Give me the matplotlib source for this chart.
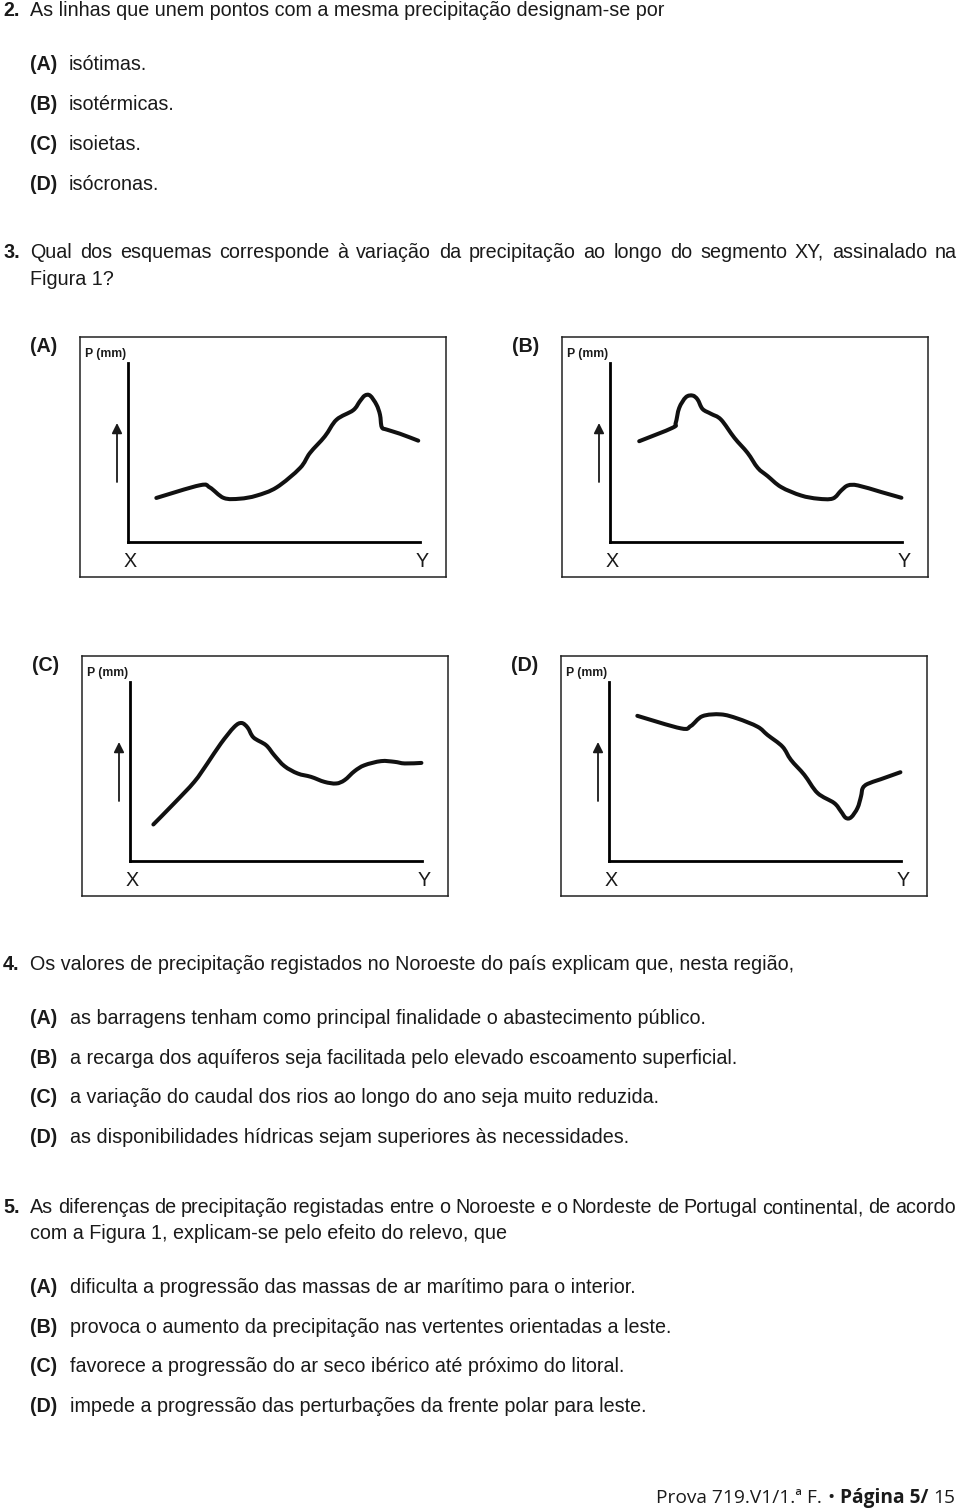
import matplotlib
matplotlib.use('Agg')
import matplotlib.pyplot as plt
from matplotlib.path import Path
from matplotlib.patches import PathPatch

W, H = 960, 1509
DPI = 100
FONT = ['Liberation Sans', 'DejaVu Sans']
COR = '#1a1a1a'
TAM = 14.2
plt.rcParams['font.family'] = FONT

perfil_a_x = [9.7, 24.6, 28.0, 32.8, 38.3, 44.0, 50.9, 58.9, 62.3, 67.4, 71.4, 77.1,
              79.4, 81.1, 82.9, 85.1, 86.3, 86.9, 88.6, 93.1, 99.4]
perfil_a_p = [24.6, 31.7, 30.5, 24.6, 24.2, 25.9, 30.5, 41.3, 49.7, 59.0, 68.3, 73.6,
              78.6, 81.8, 81.8, 76.7, 71.1, 64.2, 62.8, 60.5, 56.6]

perfil_b_x = [10.0, 21.4, 22.5, 23.7, 26.0, 28.3, 30.0, 31.7, 34.6, 38.0, 42.6, 47.1,
              50.6, 54.0, 58.6, 65.4, 71.2, 76.3, 79.2, 81.5, 84.9, 92.9, 99.8]
perfil_b_p = [56.3, 63.8, 66.5, 74.9, 80.9, 81.8, 79.6, 74.3, 71.6, 68.4, 58.2, 49.8,
              41.4, 36.8, 30.7, 26.0, 24.2, 24.3, 28.8, 31.6, 31.6, 27.9, 24.7]

perfil_c_x = [8.0, 15.1, 22.0, 26.5, 31.1, 35.7, 38.2, 40.3, 42.3, 46.6, 49.4, 52.9,
              57.4, 62.0, 66.6, 70.6, 73.5, 76.9, 80.3, 86.0, 90.6, 94.1, 99.8]
perfil_c_p = [20.4, 32.2, 44.2, 54.5, 65.6, 74.9, 77.1, 74.5, 69.0, 64.7, 59.1, 53.0,
              48.9, 47.0, 44.2, 43.3, 45.2, 50.2, 53.5, 55.8, 55.4, 54.5, 54.8]

perfil_d_x = [9.7, 24.6, 28.0, 32.0, 38.3, 44.0, 50.9, 54.3, 59.4, 62.3, 66.9, 71.4,
              77.1, 79.4, 81.1, 82.9, 85.1, 86.3, 86.9, 88.6, 93.1, 99.8]
perfil_d_p = [81.1, 74.1, 75.4, 80.9, 81.9, 79.6, 75.0, 70.4, 63.9, 56.5, 48.1, 38.0,
              32.4, 27.8, 24.1, 24.4, 29.6, 36.1, 40.7, 43.1, 45.7, 49.6]

letras = ['A', 'B', 'C', 'D']

q2_texto = 'As linhas que unem pontos com a mesma precipitação designam-se por'
q2_opcoes = ['isótimas.', 'isotérmicas.', 'isoietas.', 'isócronas.']

q3_linha1 = ('Qual dos esquemas corresponde à variação da precipitação ao longo '
             'do segmento XY, assinalado na')
q3_linha2 = 'Figura 1?'

q4_texto = 'Os valores de precipitação registados no Noroeste do país explicam que, nesta região,'
q4_opcoes = ['as barragens tenham como principal finalidade o abastecimento público.',
             'a recarga dos aquíferos seja facilitada pelo elevado escoamento superficial.',
             'a variação do caudal dos rios ao longo do ano seja muito reduzida.',
             'as disponibilidades hídricas sejam superiores às necessidades.']

q5_linha1 = ('As diferenças de precipitação registadas entre o Noroeste e o Nordeste '
             'de Portugal continental, de acordo')
q5_linha2 = 'com a Figura 1, explicam-se pelo efeito do relevo, que'
q5_opcoes = ['dificulta a progressão das massas de ar marítimo para o interior.',
             'provoca o aumento da precipitação nas vertentes orientadas a leste.',
             'favorece a progressão do ar seco ibérico até próximo do litoral.',
             'impede a progressão das perturbações da frente polar para leste.']

rodape = [('Prova 719.V1/1.ª F.', 'normal'), ('•', 'normal'),
          ('Página 5/', 'bold'), ('15', 'normal')]

fig = plt.figure(figsize=(W / DPI, H / DPI), dpi=DPI)
renderer = fig.canvas.get_renderer()


def fx(px):
    return px / W


def fy(py):
    return 1 - py / H


def texto(x, y, s, size=TAM, **kw):
    kw.setdefault('color', COR)
    return fig.text(fx(x), fy(y), s, fontsize=size, va='baseline', **kw)


def largura(t):
    return t.get_window_extent(renderer).width


def justificado(x0, x1, y, s):
    # distribui as palavras entre x0 e x1
    palavras = [texto(0, y, p) for p in s.split()]
    larg = [largura(t) for t in palavras]
    gap = (x1 - x0 - sum(larg)) / (len(palavras) - 1)
    x = x0
    for t, w in zip(palavras, larg):
        t.set_x(fx(x))
        x += w + gap


def pergunta(num, y):
    texto(3, y, num, fontweight='bold')


def opcoes(y0, passo, itens, xt=70):
    for i, (l, s) in enumerate(zip(letras, itens)):
        y = y0 + passo * i
        texto(30, y, f'({l})', fontweight='bold')
        texto(xt, y, s)


def curva_suave(xs, ys):
    # caminho de Bézier (Catmull-Rom) a passar pelos pontos lidos
    pts = list(zip(xs, ys))
    n = len(pts)
    verts = [pts[0]]
    codes = [Path.MOVETO]
    for i in range(n - 1):
        p0 = pts[max(i - 1, 0)]
        p1 = pts[i]
        p2 = pts[i + 1]
        p3 = pts[min(i + 2, n - 1)]
        c1 = (p1[0] + (p2[0] - p0[0]) / 6, p1[1] + (p2[1] - p0[1]) / 6)
        c2 = (p2[0] - (p3[0] - p1[0]) / 6, p2[1] - (p3[1] - p1[1]) / 6)
        verts += [c1, c2, p2]
        codes += [Path.CURVE4] * 3
    return Path(verts, codes)


def painel(bx, by, letra, xs, ps):
    caixa = fig.add_axes([fx(bx), fy(by + 240), 366 / W, 240 / H])
    caixa.set_xticks([])
    caixa.set_yticks([])
    for sp in caixa.spines.values():
        sp.set_linewidth(1.1)
        sp.set_color('#222222')

    ax = fig.add_axes([fx(bx + 48), fy(by + 205), 292 / W, 179 / H])
    ax.patch.set_alpha(0)
    ax.add_patch(PathPatch(curva_suave(xs, ps), fill=False, ec='#111111', lw=2.9,
                           capstyle='round', joinstyle='round', clip_on=False))
    ax.set_xlim(0, 100)
    ax.set_ylim(0, 100)
    ax.spines[['top', 'right']].set_visible(False)
    ax.spines[['left', 'bottom']].set_linewidth(2.0)
    ax.set_xticks([])
    ax.set_yticks([])

    texto(bx - 50, by + 15, f'({letra})', fontweight='bold')
    texto(bx + 5, by + 20, 'P (mm)', size=8.8, fontweight='bold')
    texto(bx + 50, by + 230, 'X', ha='center')
    texto(bx + 342, by + 230, 'Y', ha='center')
    fig.add_artist(plt.Annotation('', xy=(fx(bx + 37), fy(by + 86)),
                                  xytext=(fx(bx + 37), fy(by + 145)),
                                  xycoords='figure fraction',
                                  arrowprops=dict(arrowstyle='-|>', lw=1.3, color=COR,
                                                  mutation_scale=15, shrinkA=0, shrinkB=0)))


# pergunta 2
pergunta('2.', 16)
texto(30, 16, q2_texto)
opcoes(70, 40, q2_opcoes, xt=69)

# pergunta 3
pergunta('3.', 258)
justificado(30, 957, 258, q3_linha1)
texto(30, 285, q3_linha2)

painel(80, 337, 'A', perfil_a_x, perfil_a_p)
painel(562, 337, 'B', perfil_b_x, perfil_b_p)
painel(82, 656, 'C', perfil_c_x, perfil_c_p)
painel(561, 656, 'D', perfil_d_x, perfil_d_p)

# pergunta 4
pergunta('4.', 970)
texto(30, 970, q4_texto)
opcoes(1024, 39.7, q4_opcoes)

# pergunta 5
pergunta('5.', 1213)
justificado(30, 956, 1213, q5_linha1)
texto(30, 1239, q5_linha2)
opcoes(1293, 39.7, q5_opcoes)

# rodapé
fam = ['Open Sans', 'DejaVu Sans']
partes = [texto(0, 1503, s, size=13.8, fontweight=p, family=fam) for s, p in rodape]
espaco = 5
total = sum(largura(t) for t in partes) + espaco * (len(partes) - 1)
x = 955 - total
for t in partes:
    t.set_x(fx(x))
    x += largura(t) + espaco

fig.savefig('out.png', dpi=DPI)
